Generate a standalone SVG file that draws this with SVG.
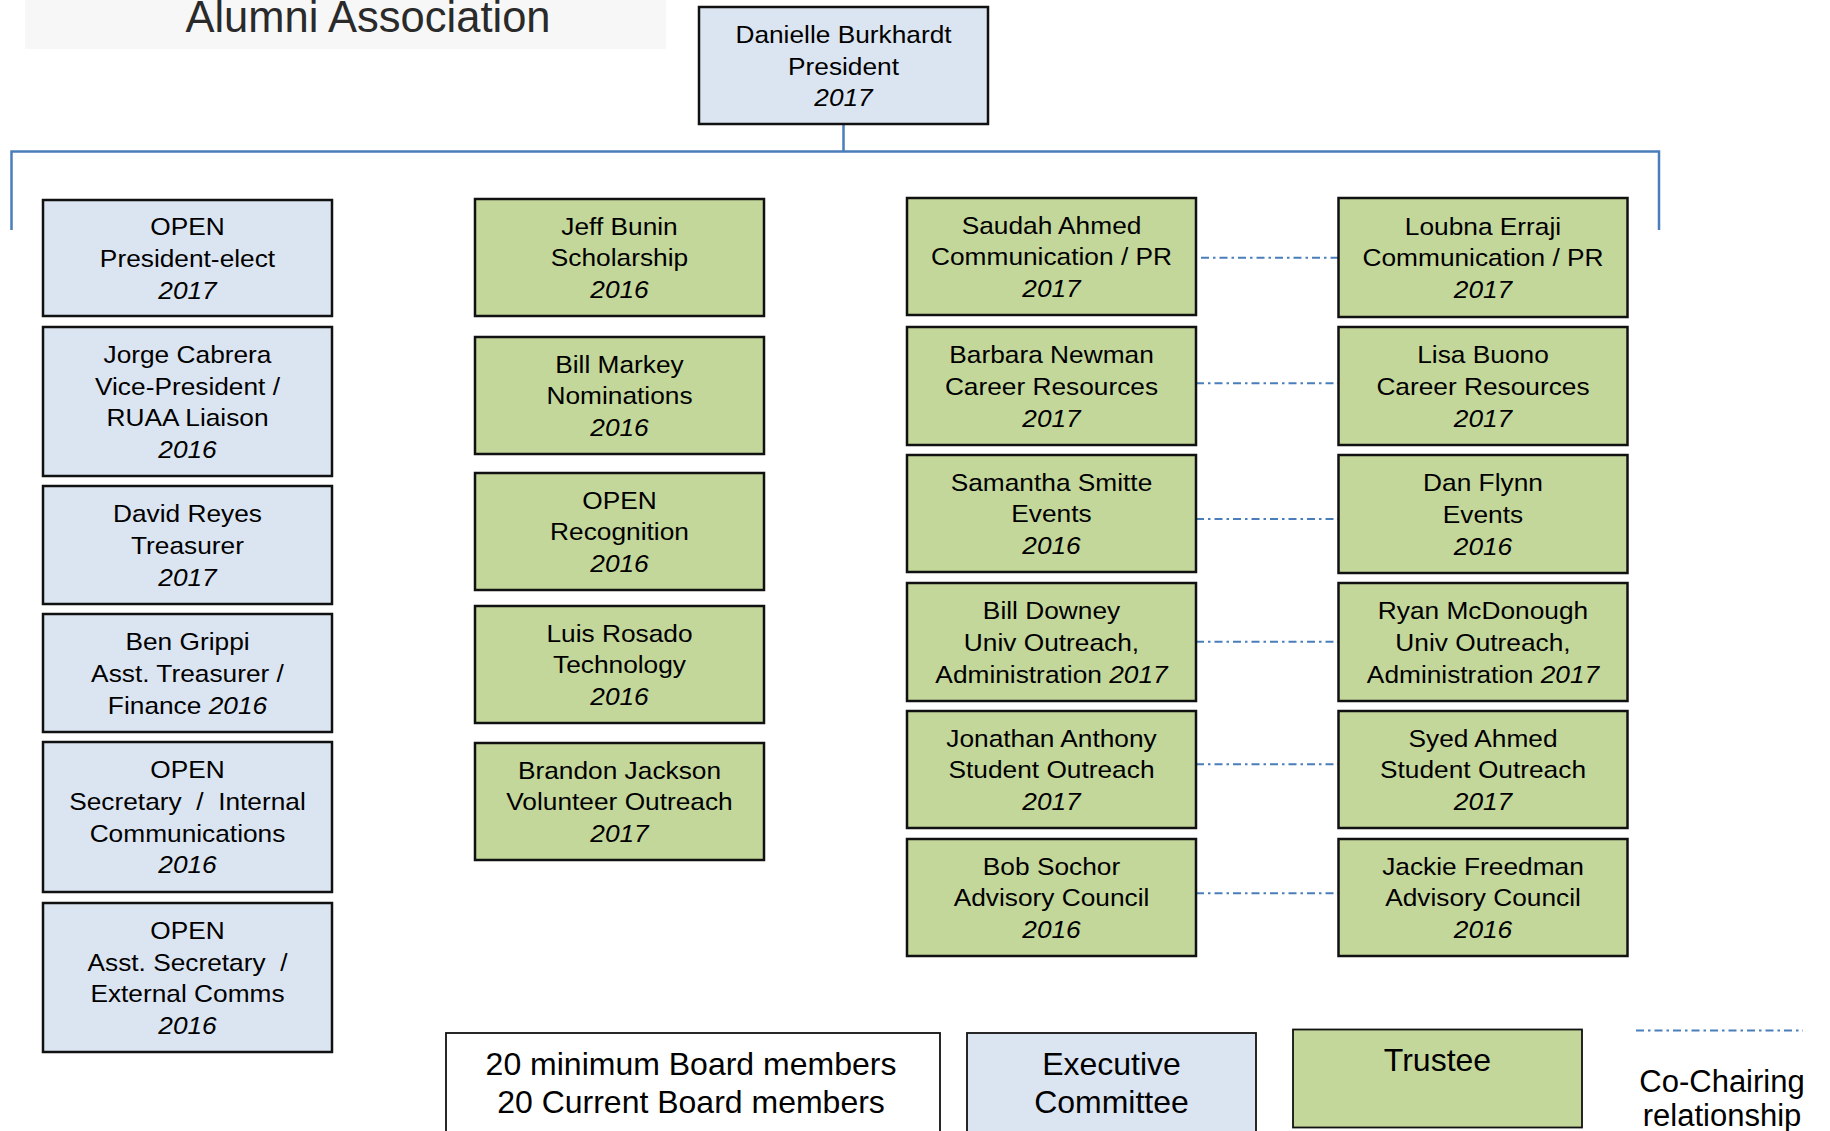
<svg xmlns="http://www.w3.org/2000/svg" width="1830" height="1131" viewBox="0 0 1830 1131">
<style>
.bg{fill:#ffffff}
.blue{fill:#dbe5f1;stroke:#111;stroke-width:2.5}
.green{fill:#c4d79b;stroke:#111;stroke-width:2.5}
.leg{stroke:#111;stroke-width:1.8}
.t{font-family:"Liberation Sans",Arial,sans-serif;font-size:24.8px;text-anchor:middle;fill:#000}
.i{font-style:italic}
.lt{font-family:"Liberation Sans",Arial,sans-serif;font-size:32px;text-anchor:middle;fill:#000}
.tree{stroke:#4a7ebb;stroke-width:2.5;fill:none}
.co{stroke:#4a7ebb;stroke-width:2;fill:none;stroke-dasharray:8 4 2.5 4}
</style>
<rect class="bg" x="0" y="0" width="1830" height="1131"/>
<g id="title">
<rect x="25" y="0" width="641" height="49" fill="#f7f7f7"/>
<text x="368" y="32" font-family="Liberation Sans, Arial, sans-serif" font-size="43.5" text-anchor="middle" fill="#2a2a2a">Alumni Association</text>
</g>
<g id="connectors">
<path class="tree" d="M843.5 124 V151.5 M11.5 230 V151.5 H1659 V230"/>
<line class="co" x1="1201" y1="257.7" x2="1338" y2="257.7"/>
<line class="co" x1="1196" y1="383.3" x2="1338" y2="383.3"/>
<line class="co" x1="1196" y1="519" x2="1338" y2="519"/>
<line class="co" x1="1196" y1="641.7" x2="1338" y2="641.7"/>
<line class="co" x1="1196" y1="764.3" x2="1338" y2="764.3"/>
<line class="co" x1="1196" y1="893.3" x2="1338" y2="893.3"/>
</g>
<g id="n-president"><rect class="blue" x="699" y="7" width="289" height="117"/><text class="t" transform="translate(843.5 0) scale(1.06 1)"><tspan x="0" y="42.7">Danielle Burkhardt</tspan><tspan x="0" y="74.7">President</tspan><tspan x="0" y="106.5" class="i">2017</tspan></text></g>

<g id="n-president-elect"><rect class="blue" x="43" y="200" width="289" height="116"/><text class="t" transform="translate(187.5 0) scale(1.06 1)"><tspan x="0" y="235.3">OPEN</tspan><tspan x="0" y="267">President-elect</tspan><tspan x="0" y="298.7" class="i">2017</tspan></text></g>
<g id="n-vice-president"><rect class="blue" x="43" y="327" width="289" height="149"/><text class="t" transform="translate(187.5 0) scale(1.06 1)"><tspan x="0" y="363">Jorge Cabrera</tspan><tspan x="0" y="394.6">Vice-President /</tspan><tspan x="0" y="426.3">RUAA Liaison</tspan><tspan x="0" y="458" class="i">2016</tspan></text></g>
<g id="n-treasurer"><rect class="blue" x="43" y="486" width="289" height="118"/><text class="t" transform="translate(187.5 0) scale(1.06 1)"><tspan x="0" y="522.3">David Reyes</tspan><tspan x="0" y="554">Treasurer</tspan><tspan x="0" y="585.7" class="i">2017</tspan></text></g>
<g id="n-asst-treasurer"><rect class="blue" x="43" y="614" width="289" height="118"/><text class="t" transform="translate(187.5 0) scale(1.06 1)"><tspan x="0" y="650.3">Ben Grippi</tspan><tspan x="0" y="682">Asst. Treasurer /</tspan><tspan x="0" y="713.7">Finance </tspan><tspan class="i">2016</tspan></text></g>
<g id="n-secretary"><rect class="blue" x="43" y="742" width="289" height="150"/><text class="t" transform="translate(187.5 0) scale(1.06 1)"><tspan x="0" y="778.5">OPEN</tspan><tspan x="0" y="810.2">Secretary &#160;/ &#160;Internal</tspan><tspan x="0" y="841.8">Communications</tspan><tspan x="0" y="873.5" class="i">2016</tspan></text></g>
<g id="n-asst-secretary"><rect class="blue" x="43" y="903" width="289" height="149"/><text class="t" transform="translate(187.5 0) scale(1.06 1)"><tspan x="0" y="939">OPEN</tspan><tspan x="0" y="970.7">Asst. Secretary &#160;/</tspan><tspan x="0" y="1002.3">External Comms</tspan><tspan x="0" y="1034" class="i">2016</tspan></text></g>

<g id="n-scholarship"><rect class="green" x="475" y="199" width="289" height="117"/><text class="t" transform="translate(619.5 0) scale(1.06 1)"><tspan x="0" y="234.8">Jeff Bunin</tspan><tspan x="0" y="266.5">Scholarship</tspan><tspan x="0" y="298.2" class="i">2016</tspan></text></g>
<g id="n-nominations"><rect class="green" x="475" y="337" width="289" height="117"/><text class="t" transform="translate(619.5 0) scale(1.06 1)"><tspan x="0" y="372.8">Bill Markey</tspan><tspan x="0" y="404.5">Nominations</tspan><tspan x="0" y="436.2" class="i">2016</tspan></text></g>
<g id="n-recognition"><rect class="green" x="475" y="473" width="289" height="117"/><text class="t" transform="translate(619.5 0) scale(1.06 1)"><tspan x="0" y="508.8">OPEN</tspan><tspan x="0" y="540.5">Recognition</tspan><tspan x="0" y="572.2" class="i">2016</tspan></text></g>
<g id="n-technology"><rect class="green" x="475" y="606" width="289" height="117"/><text class="t" transform="translate(619.5 0) scale(1.06 1)"><tspan x="0" y="641.8">Luis Rosado</tspan><tspan x="0" y="673.5">Technology</tspan><tspan x="0" y="705.2" class="i">2016</tspan></text></g>
<g id="n-volunteer"><rect class="green" x="475" y="743" width="289" height="117"/><text class="t" transform="translate(619.5 0) scale(1.06 1)"><tspan x="0" y="778.8">Brandon Jackson</tspan><tspan x="0" y="810.5">Volunteer Outreach</tspan><tspan x="0" y="842.2" class="i">2017</tspan></text></g>

<g id="n-saudah"><rect class="green" x="907" y="198" width="289" height="117"/><text class="t" transform="translate(1051.5 0) scale(1.06 1)"><tspan x="0" y="233.8">Saudah Ahmed</tspan><tspan x="0" y="265.5">Communication / PR</tspan><tspan x="0" y="297.2" class="i">2017</tspan></text></g>
<g id="n-barbara"><rect class="green" x="907" y="327" width="289" height="118"/><text class="t" transform="translate(1051.5 0) scale(1.06 1)"><tspan x="0" y="363.3">Barbara Newman</tspan><tspan x="0" y="395">Career Resources</tspan><tspan x="0" y="426.7" class="i">2017</tspan></text></g>
<g id="n-samantha"><rect class="green" x="907" y="455" width="289" height="117"/><text class="t" transform="translate(1051.5 0) scale(1.06 1)"><tspan x="0" y="490.8">Samantha Smitte</tspan><tspan x="0" y="522.5">Events</tspan><tspan x="0" y="554.2" class="i">2016</tspan></text></g>
<g id="n-bill-downey"><rect class="green" x="907" y="583" width="289" height="118"/><text class="t" transform="translate(1051.5 0) scale(1.06 1)"><tspan x="0" y="619.3">Bill Downey</tspan><tspan x="0" y="651">Univ Outreach,</tspan><tspan x="0" y="682.7">Administration </tspan><tspan class="i">2017</tspan></text></g>
<g id="n-jonathan"><rect class="green" x="907" y="711" width="289" height="117"/><text class="t" transform="translate(1051.5 0) scale(1.06 1)"><tspan x="0" y="746.8">Jonathan Anthony</tspan><tspan x="0" y="778.5">Student Outreach</tspan><tspan x="0" y="810.2" class="i">2017</tspan></text></g>
<g id="n-bob"><rect class="green" x="907" y="839" width="289" height="117"/><text class="t" transform="translate(1051.5 0) scale(1.06 1)"><tspan x="0" y="874.8">Bob Sochor</tspan><tspan x="0" y="906.5">Advisory Council</tspan><tspan x="0" y="938.2" class="i">2016</tspan></text></g>

<g id="n-loubna"><rect class="green" x="1338.5" y="198" width="289" height="119"/><text class="t" transform="translate(1483 0) scale(1.06 1)"><tspan x="0" y="234.8">Loubna Erraji</tspan><tspan x="0" y="266.5">Communication / PR</tspan><tspan x="0" y="298.2" class="i">2017</tspan></text></g>
<g id="n-lisa"><rect class="green" x="1338.5" y="327" width="289" height="118"/><text class="t" transform="translate(1483 0) scale(1.06 1)"><tspan x="0" y="363.3">Lisa Buono</tspan><tspan x="0" y="395">Career Resources</tspan><tspan x="0" y="426.7" class="i">2017</tspan></text></g>
<g id="n-dan"><rect class="green" x="1338.5" y="455" width="289" height="118"/><text class="t" transform="translate(1483 0) scale(1.06 1)"><tspan x="0" y="491.3">Dan Flynn</tspan><tspan x="0" y="523">Events</tspan><tspan x="0" y="554.7" class="i">2016</tspan></text></g>
<g id="n-ryan"><rect class="green" x="1338.5" y="583" width="289" height="118"/><text class="t" transform="translate(1483 0) scale(1.06 1)"><tspan x="0" y="619.3">Ryan McDonough</tspan><tspan x="0" y="651">Univ Outreach,</tspan><tspan x="0" y="682.7">Administration </tspan><tspan class="i">2017</tspan></text></g>
<g id="n-syed"><rect class="green" x="1338.5" y="711" width="289" height="117"/><text class="t" transform="translate(1483 0) scale(1.06 1)"><tspan x="0" y="746.8">Syed Ahmed</tspan><tspan x="0" y="778.5">Student Outreach</tspan><tspan x="0" y="810.2" class="i">2017</tspan></text></g>
<g id="n-jackie"><rect class="green" x="1338.5" y="839" width="289" height="117"/><text class="t" transform="translate(1483 0) scale(1.06 1)"><tspan x="0" y="874.8">Jackie Freedman</tspan><tspan x="0" y="906.5">Advisory Council</tspan><tspan x="0" y="938.2" class="i">2016</tspan></text></g>

<g id="legend-board"><rect class="leg" fill="#fff" x="446" y="1033" width="494" height="110"/><text class="lt"><tspan x="691" y="1075">20 minimum Board members</tspan><tspan x="691" y="1113">20 Current Board members</tspan></text></g>
<g id="legend-executive"><rect class="leg" fill="#dbe5f1" x="967" y="1033" width="289" height="110"/><text class="lt"><tspan x="1111.5" y="1075">Executive</tspan><tspan x="1111.5" y="1113">Committee</tspan></text></g>
<g id="legend-trustee"><rect class="leg" fill="#c4d79b" x="1293" y="1029.5" width="289" height="98"/><text class="lt" x="1437.5" y="1071">Trustee</text></g>
<g id="legend-cochair"><line class="co" x1="1636" y1="1030.5" x2="1803" y2="1030.5"/><text class="lt" style="font-size:31px"><tspan x="1722" y="1092">Co-Chairing</tspan><tspan x="1722" y="1126">relationship</tspan></text></g>
</svg>
